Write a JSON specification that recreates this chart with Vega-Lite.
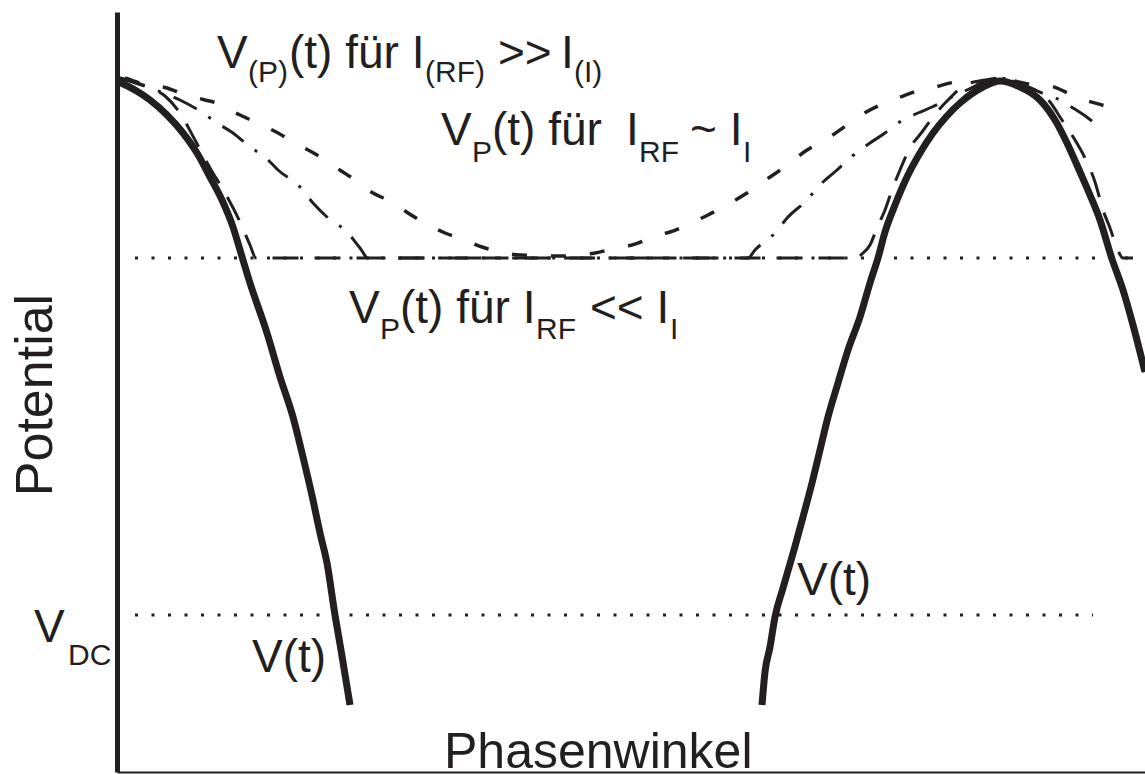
{
  "$schema": "https://vega.github.io/schema/vega-lite/v6.json",
  "width": 1028,
  "height": 760,
  "autosize": {"type": "none"},
  "padding": {"left": 117, "top": 12, "right": 0, "bottom": 2},
  "background": "white",
  "config": {"view": {"stroke": null}, "font": "Liberation Sans"},
  "datasets": {
    "niveaus": [
      {"niveau": "Plateau", "x": 18, "x2": 1015, "y": 514},
      {"niveau": "V_DC", "x": 18, "x2": 976, "y": 157}
    ],
    "kurven": [
      {"kurve": "V", "zweig": "links", "x": 2, "y": 690},
      {"kurve": "V", "zweig": "links", "x": 18, "y": 682},
      {"kurve": "V", "zweig": "links", "x": 33, "y": 672},
      {"kurve": "V", "zweig": "links", "x": 50, "y": 657},
      {"kurve": "V", "zweig": "links", "x": 66, "y": 639},
      {"kurve": "V", "zweig": "links", "x": 80, "y": 619},
      {"kurve": "V", "zweig": "links", "x": 93, "y": 595},
      {"kurve": "V", "zweig": "links", "x": 105, "y": 572},
      {"kurve": "V", "zweig": "links", "x": 116, "y": 545},
      {"kurve": "V", "zweig": "links", "x": 123, "y": 522},
      {"kurve": "V", "zweig": "links", "x": 133, "y": 489},
      {"kurve": "V", "zweig": "links", "x": 150, "y": 439},
      {"kurve": "V", "zweig": "links", "x": 163, "y": 395},
      {"kurve": "V", "zweig": "links", "x": 176, "y": 355},
      {"kurve": "V", "zweig": "links", "x": 186, "y": 315},
      {"kurve": "V", "zweig": "links", "x": 196, "y": 272},
      {"kurve": "V", "zweig": "links", "x": 203, "y": 239},
      {"kurve": "V", "zweig": "links", "x": 210, "y": 209},
      {"kurve": "V", "zweig": "links", "x": 218, "y": 157},
      {"kurve": "V", "zweig": "links", "x": 224, "y": 122},
      {"kurve": "V", "zweig": "links", "x": 233, "y": 67},
      {"kurve": "V", "zweig": "rechts", "x": 645, "y": 67},
      {"kurve": "V", "zweig": "rechts", "x": 648, "y": 100},
      {"kurve": "V", "zweig": "rechts", "x": 653, "y": 125},
      {"kurve": "V", "zweig": "rechts", "x": 658, "y": 155},
      {"kurve": "V", "zweig": "rechts", "x": 666, "y": 184},
      {"kurve": "V", "zweig": "rechts", "x": 677, "y": 222},
      {"kurve": "V", "zweig": "rechts", "x": 686, "y": 255},
      {"kurve": "V", "zweig": "rechts", "x": 695, "y": 289},
      {"kurve": "V", "zweig": "rechts", "x": 703, "y": 322},
      {"kurve": "V", "zweig": "rechts", "x": 711, "y": 355},
      {"kurve": "V", "zweig": "rechts", "x": 721, "y": 389},
      {"kurve": "V", "zweig": "rechts", "x": 731, "y": 422},
      {"kurve": "V", "zweig": "rechts", "x": 743, "y": 455},
      {"kurve": "V", "zweig": "rechts", "x": 753, "y": 489},
      {"kurve": "V", "zweig": "rechts", "x": 761, "y": 514},
      {"kurve": "V", "zweig": "rechts", "x": 768, "y": 540},
      {"kurve": "V", "zweig": "rechts", "x": 778, "y": 567},
      {"kurve": "V", "zweig": "rechts", "x": 790, "y": 595},
      {"kurve": "V", "zweig": "rechts", "x": 803, "y": 619},
      {"kurve": "V", "zweig": "rechts", "x": 816, "y": 639},
      {"kurve": "V", "zweig": "rechts", "x": 829, "y": 655},
      {"kurve": "V", "zweig": "rechts", "x": 843, "y": 669},
      {"kurve": "V", "zweig": "rechts", "x": 866, "y": 685},
      {"kurve": "V", "zweig": "rechts", "x": 883, "y": 691},
      {"kurve": "V", "zweig": "rechts", "x": 903, "y": 685},
      {"kurve": "V", "zweig": "rechts", "x": 923, "y": 672},
      {"kurve": "V", "zweig": "rechts", "x": 938, "y": 652},
      {"kurve": "V", "zweig": "rechts", "x": 950, "y": 629},
      {"kurve": "V", "zweig": "rechts", "x": 963, "y": 600},
      {"kurve": "V", "zweig": "rechts", "x": 973, "y": 577},
      {"kurve": "V", "zweig": "rechts", "x": 983, "y": 552},
      {"kurve": "V", "zweig": "rechts", "x": 995, "y": 513},
      {"kurve": "V", "zweig": "rechts", "x": 1006, "y": 482},
      {"kurve": "V", "zweig": "rechts", "x": 1016, "y": 447},
      {"kurve": "V", "zweig": "rechts", "x": 1028, "y": 400},

      {"kurve": "klein", "x": 3, "y": 694},
      {"kurve": "klein", "x": 33, "y": 684},
      {"kurve": "klein", "x": 48, "y": 676},
      {"kurve": "klein", "x": 63, "y": 659},
      {"kurve": "klein", "x": 78, "y": 632},
      {"kurve": "klein", "x": 93, "y": 604},
      {"kurve": "klein", "x": 108, "y": 579},
      {"kurve": "klein", "x": 123, "y": 550},
      {"kurve": "klein", "x": 133, "y": 527},
      {"kurve": "klein", "x": 139, "y": 514},
      {"kurve": "klein", "x": 183, "y": 514},
      {"kurve": "klein", "x": 383, "y": 514},
      {"kurve": "klein", "x": 583, "y": 514},
      {"kurve": "klein", "x": 738, "y": 514},
      {"kurve": "klein", "x": 745, "y": 518},
      {"kurve": "klein", "x": 753, "y": 527},
      {"kurve": "klein", "x": 760, "y": 544},
      {"kurve": "klein", "x": 768, "y": 562},
      {"kurve": "klein", "x": 775, "y": 582},
      {"kurve": "klein", "x": 783, "y": 602},
      {"kurve": "klein", "x": 793, "y": 624},
      {"kurve": "klein", "x": 805, "y": 640},
      {"kurve": "klein", "x": 820, "y": 660},
      {"kurve": "klein", "x": 833, "y": 674},
      {"kurve": "klein", "x": 848, "y": 687},
      {"kurve": "klein", "x": 868, "y": 692},
      {"kurve": "klein", "x": 883, "y": 694},
      {"kurve": "klein", "x": 903, "y": 688},
      {"kurve": "klein", "x": 923, "y": 679},
      {"kurve": "klein", "x": 933, "y": 670},
      {"kurve": "klein", "x": 943, "y": 655},
      {"kurve": "klein", "x": 958, "y": 632},
      {"kurve": "klein", "x": 968, "y": 614},
      {"kurve": "klein", "x": 978, "y": 590},
      {"kurve": "klein", "x": 986, "y": 562},
      {"kurve": "klein", "x": 993, "y": 544},
      {"kurve": "klein", "x": 1000, "y": 524},
      {"kurve": "klein", "x": 1006, "y": 514},
      {"kurve": "klein", "x": 1016, "y": 514},

      {"kurve": "gleich", "x": 3, "y": 694},
      {"kurve": "gleich", "x": 33, "y": 684},
      {"kurve": "gleich", "x": 63, "y": 672},
      {"kurve": "gleich", "x": 86, "y": 659},
      {"kurve": "gleich", "x": 100, "y": 649},
      {"kurve": "gleich", "x": 116, "y": 639},
      {"kurve": "gleich", "x": 133, "y": 625},
      {"kurve": "gleich", "x": 148, "y": 615},
      {"kurve": "gleich", "x": 161, "y": 602},
      {"kurve": "gleich", "x": 183, "y": 585},
      {"kurve": "gleich", "x": 196, "y": 569},
      {"kurve": "gleich", "x": 210, "y": 555},
      {"kurve": "gleich", "x": 230, "y": 540},
      {"kurve": "gleich", "x": 243, "y": 524},
      {"kurve": "gleich", "x": 251, "y": 514},
      {"kurve": "gleich", "x": 383, "y": 514},
      {"kurve": "gleich", "x": 631, "y": 514},
      {"kurve": "gleich", "x": 638, "y": 522},
      {"kurve": "gleich", "x": 658, "y": 539},
      {"kurve": "gleich", "x": 671, "y": 555},
      {"kurve": "gleich", "x": 688, "y": 570},
      {"kurve": "gleich", "x": 705, "y": 589},
      {"kurve": "gleich", "x": 720, "y": 602},
      {"kurve": "gleich", "x": 733, "y": 614},
      {"kurve": "gleich", "x": 753, "y": 629},
      {"kurve": "gleich", "x": 768, "y": 639},
      {"kurve": "gleich", "x": 781, "y": 649},
      {"kurve": "gleich", "x": 801, "y": 659},
      {"kurve": "gleich", "x": 815, "y": 665},
      {"kurve": "gleich", "x": 833, "y": 674},
      {"kurve": "gleich", "x": 850, "y": 682},
      {"kurve": "gleich", "x": 868, "y": 690},
      {"kurve": "gleich", "x": 883, "y": 694},
      {"kurve": "gleich", "x": 903, "y": 688},
      {"kurve": "gleich", "x": 925, "y": 679},
      {"kurve": "gleich", "x": 943, "y": 672},
      {"kurve": "gleich", "x": 956, "y": 664},
      {"kurve": "gleich", "x": 971, "y": 654},
      {"kurve": "gleich", "x": 980, "y": 647},

      {"kurve": "gross", "x": 8, "y": 694},
      {"kurve": "gross", "x": 26, "y": 688},
      {"kurve": "gross", "x": 50, "y": 684},
      {"kurve": "gross", "x": 61, "y": 680},
      {"kurve": "gross", "x": 88, "y": 672},
      {"kurve": "gross", "x": 100, "y": 669},
      {"kurve": "gross", "x": 123, "y": 657},
      {"kurve": "gross", "x": 138, "y": 650},
      {"kurve": "gross", "x": 161, "y": 639},
      {"kurve": "gross", "x": 176, "y": 630},
      {"kurve": "gross", "x": 200, "y": 617},
      {"kurve": "gross", "x": 215, "y": 607},
      {"kurve": "gross", "x": 238, "y": 592},
      {"kurve": "gross", "x": 251, "y": 582},
      {"kurve": "gross", "x": 276, "y": 569},
      {"kurve": "gross", "x": 291, "y": 559},
      {"kurve": "gross", "x": 315, "y": 545},
      {"kurve": "gross", "x": 328, "y": 539},
      {"kurve": "gross", "x": 350, "y": 531},
      {"kurve": "gross", "x": 365, "y": 525},
      {"kurve": "gross", "x": 388, "y": 519},
      {"kurve": "gross", "x": 403, "y": 517},
      {"kurve": "gross", "x": 443, "y": 516},
      {"kurve": "gross", "x": 478, "y": 519},
      {"kurve": "gross", "x": 503, "y": 525},
      {"kurve": "gross", "x": 515, "y": 527},
      {"kurve": "gross", "x": 541, "y": 537},
      {"kurve": "gross", "x": 553, "y": 540},
      {"kurve": "gross", "x": 576, "y": 550},
      {"kurve": "gross", "x": 591, "y": 557},
      {"kurve": "gross", "x": 615, "y": 570},
      {"kurve": "gross", "x": 630, "y": 579},
      {"kurve": "gross", "x": 653, "y": 595},
      {"kurve": "gross", "x": 668, "y": 605},
      {"kurve": "gross", "x": 690, "y": 622},
      {"kurve": "gross", "x": 708, "y": 632},
      {"kurve": "gross", "x": 730, "y": 647},
      {"kurve": "gross", "x": 741, "y": 655},
      {"kurve": "gross", "x": 768, "y": 669},
      {"kurve": "gross", "x": 781, "y": 674},
      {"kurve": "gross", "x": 803, "y": 682},
      {"kurve": "gross", "x": 818, "y": 685},
      {"kurve": "gross", "x": 841, "y": 690},
      {"kurve": "gross", "x": 856, "y": 690},
      {"kurve": "gross", "x": 883, "y": 693},
      {"kurve": "gross", "x": 918, "y": 687},
      {"kurve": "gross", "x": 933, "y": 686},
      {"kurve": "gross", "x": 955, "y": 677},
      {"kurve": "gross", "x": 968, "y": 672},
      {"kurve": "gross", "x": 993, "y": 664},
      {"kurve": "gross", "x": 1003, "y": 659}
    ],
    "texte": [
      {"art": "haupt", "text": "V", "x": 100, "y": 704},
      {"art": "index", "text": "(P)", "x": 131, "y": 690},
      {"art": "haupt", "text": "(t) für I", "x": 172, "y": 704},
      {"art": "index", "text": "(RF)", "x": 308, "y": 690},
      {"art": "haupt", "text": ">>", "x": 381, "y": 704},
      {"art": "haupt", "text": "I", "x": 444, "y": 704},
      {"art": "index", "text": "(I)", "x": 457, "y": 690},

      {"art": "haupt", "text": "V", "x": 324, "y": 627},
      {"art": "index", "text": "P", "x": 355, "y": 610},
      {"art": "haupt", "text": "(t) für", "x": 375, "y": 627},
      {"art": "haupt", "text": "I", "x": 509, "y": 627},
      {"art": "index", "text": "RF", "x": 522, "y": 610},
      {"art": "haupt", "text": "~ I", "x": 573, "y": 627},
      {"art": "index", "text": "I", "x": 626, "y": 610},

      {"art": "haupt", "text": "V", "x": 232, "y": 449},
      {"art": "index", "text": "P", "x": 263, "y": 433},
      {"art": "haupt", "text": "(t) für I", "x": 283, "y": 449},
      {"art": "index", "text": "RF", "x": 419, "y": 433},
      {"art": "haupt", "text": "<< I", "x": 473, "y": 449},
      {"art": "index", "text": "I", "x": 553, "y": 433},

      {"art": "haupt", "text": "V(t)", "x": 135, "y": 100},
      {"art": "haupt", "text": "V(t)", "x": 680, "y": 177},
      {"art": "haupt", "text": "V", "x": -83, "y": 130},
      {"art": "index", "text": "DC", "x": -49, "y": 107},
      {"art": "achse", "text": "Phasenwinkel", "x": 327, "y": 4}
    ],
    "achsentitel": [
      {"text": "Potential", "x": -65, "y": 377}
    ]
  },
  "layer": [
    {
      "data": {"name": "niveaus"},
      "mark": {"type": "rule", "strokeDash": [3, 13.5], "strokeWidth": 3, "color": "#231f20"},
      "encoding": {
        "x": {"field": "x", "type": "quantitative", "title": null,
              "scale": {"domain": [0, 1028], "nice": false, "zero": false},
              "axis": {"orient": "bottom", "domain": true, "domainColor": "#231f20", "domainWidth": 2, "ticks": false, "labels": false, "grid": false}},
        "x2": {"field": "x2"},
        "y": {"field": "y", "type": "quantitative", "title": null,
              "scale": {"domain": [0, 760], "nice": false, "zero": false},
              "axis": {"orient": "left", "domain": true, "domainColor": "#231f20", "domainWidth": 5, "ticks": false, "labels": false, "grid": false, "zindex": 1}}
      }
    },
    {
      "mark": {"type": "rule", "strokeWidth": 2, "color": "#231f20"},
      "encoding": {"y": {"datum": 760, "type": "quantitative"}}
    },
    {
      "data": {"name": "kurven"},
      "transform": [{"filter": "datum.kurve == 'klein'"}],
      "mark": {"type": "line", "strokeDash": [26, 16], "strokeWidth": 3, "color": "#231f20", "interpolate": "monotone"},
      "encoding": {
        "x": {"field": "x", "type": "quantitative", "title": null},
        "y": {"field": "y", "type": "quantitative", "title": null}
      }
    },
    {
      "data": {"name": "kurven"},
      "transform": [{"filter": "datum.kurve == 'gleich'"}],
      "mark": {"type": "line", "strokeDash": [26, 14, 3, 14], "strokeWidth": 3, "color": "#231f20", "interpolate": "monotone"},
      "encoding": {
        "x": {"field": "x", "type": "quantitative", "title": null},
        "y": {"field": "y", "type": "quantitative", "title": null}
      }
    },
    {
      "data": {"name": "kurven"},
      "transform": [{"filter": "datum.kurve == 'gross'"}],
      "mark": {"type": "line", "strokeDash": [15, 24], "strokeWidth": 3.5, "color": "#231f20", "interpolate": "monotone"},
      "encoding": {
        "x": {"field": "x", "type": "quantitative", "title": null},
        "y": {"field": "y", "type": "quantitative", "title": null}
      }
    },
    {
      "data": {"name": "kurven"},
      "transform": [{"filter": "datum.kurve == 'V'"}],
      "mark": {"type": "line", "strokeWidth": 7, "color": "#231f20", "interpolate": "monotone"},
      "encoding": {
        "x": {"field": "x", "type": "quantitative", "title": null},
        "y": {"field": "y", "type": "quantitative", "title": null},
        "detail": {"field": "zweig"}
      }
    },
    {
      "data": {"name": "texte"},
      "transform": [{"filter": "datum.art == 'haupt'"}],
      "mark": {"type": "text", "font": "Liberation Sans", "fontSize": 46, "align": "left", "baseline": "alphabetic", "color": "#231f20"},
      "encoding": {
        "x": {"field": "x", "type": "quantitative", "title": null},
        "y": {"field": "y", "type": "quantitative", "title": null},
        "text": {"field": "text"}
      }
    },
    {
      "data": {"name": "texte"},
      "transform": [{"filter": "datum.art == 'index'"}],
      "mark": {"type": "text", "font": "Liberation Sans", "fontSize": 30, "align": "left", "baseline": "alphabetic", "color": "#231f20"},
      "encoding": {
        "x": {"field": "x", "type": "quantitative", "title": null},
        "y": {"field": "y", "type": "quantitative", "title": null},
        "text": {"field": "text"}
      }
    },
    {
      "data": {"name": "texte"},
      "transform": [{"filter": "datum.art == 'achse'"}],
      "mark": {"type": "text", "font": "Liberation Sans", "fontSize": 50, "align": "left", "baseline": "alphabetic", "color": "#231f20"},
      "encoding": {
        "x": {"field": "x", "type": "quantitative", "title": null},
        "y": {"field": "y", "type": "quantitative", "title": null},
        "text": {"field": "text"}
      }
    },
    {
      "data": {"name": "achsentitel"},
      "mark": {"type": "text", "font": "Liberation Sans", "fontSize": 52, "angle": 270, "align": "center", "baseline": "alphabetic", "color": "#231f20"},
      "encoding": {
        "x": {"field": "x", "type": "quantitative", "title": null},
        "y": {"field": "y", "type": "quantitative", "title": null},
        "text": {"field": "text"}
      }
    }
  ]
}
